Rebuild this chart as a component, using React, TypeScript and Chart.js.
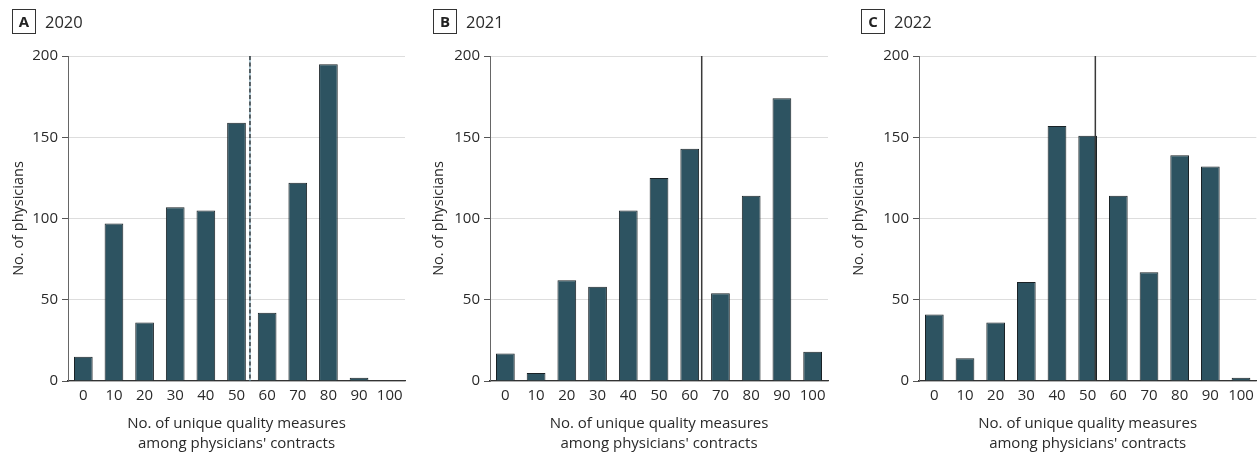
import React, { useEffect, useRef } from "react";
import { Chart, registerables } from "chart.js";

Chart.register(...registerables);

const categories = ["0", "10", "20", "30", "40", "50", "60", "70", "80", "90", "100"];
const values2020 = [15, 97, 36, 107, 105, 159, 42, 122, 195, 2, 0];
const values2021 = [17, 5, 62, 58, 105, 125, 143, 54, 114, 174, 18];
const values2022 = [41, 14, 36, 61, 157, 151, 114, 67, 139, 132, 2];
const panelLetters = ["A", "B", "C"];
const panelYears = ["2020", "2021", "2022"];
const referenceValues = [54.4, 63.9, 52.5];
const referenceDashed = [true, false, false];
const yTicks = [0, 50, 100, 150, 200];

const FONT = "'Open Sans', 'Noto Sans', sans-serif";
const BAR_FILL = "#2d5361";
const BAR_BORDER = "#1a2226";
const TEXT = "#2a2a2a";

const layouts = [
  { offset: 0, plotLeft: 68, plotRight: 405 },
  { offset: 420, plotLeft: 70, plotRight: 408 },
  { offset: 840, plotLeft: 79, plotRight: 417 },
];

const refLinePlugin = {
  id: "refLine",
  afterDatasetsDraw(chart: any, _args: any, opts: any) {
    const { ctx, chartArea, scales } = chart;
    const x = scales.x.getPixelForValue(opts.value / 10);
    ctx.save();
    if (opts.dashed) {
      ctx.strokeStyle = "#6a9bb0";
      ctx.lineWidth = 1;
      ctx.beginPath();
      ctx.moveTo(x, chartArea.top);
      ctx.lineTo(x, chartArea.bottom);
      ctx.stroke();
      ctx.strokeStyle = "#1a1a1a";
      ctx.lineWidth = 1.2;
      ctx.setLineDash([4, 2.5]);
    } else {
      ctx.strokeStyle = "#3a3a3a";
      ctx.lineWidth = 1.5;
    }
    ctx.beginPath();
    ctx.moveTo(x, chartArea.top);
    ctx.lineTo(x, chartArea.bottom);
    ctx.stroke();
    ctx.restore();
  },
};

function Panel({ idx, values }: { idx: number; values: number[] }) {
  const ref = useRef<HTMLCanvasElement | null>(null);
  const lay = layouts[idx];
  useEffect(() => {
    if (!ref.current) return;
    const chart = new Chart(ref.current, {
      type: "bar",
      data: {
        labels: categories,
        datasets: [
          {
            data: values,
            backgroundColor: BAR_FILL,
            borderColor: BAR_BORDER,
            borderWidth: 1,
            barPercentage: 0.61,
            categoryPercentage: 1,
          },
        ],
      },
      plugins: [refLinePlugin],
      options: {
        animation: false,
        responsive: false,
        maintainAspectRatio: false,
        devicePixelRatio: 1,
        layout: { padding: { top: 56, right: 420 - lay.plotRight, left: 0, bottom: 0 } },
        plugins: {
          legend: { display: false },
          tooltip: { enabled: false },
          refLine: { value: referenceValues[idx], dashed: referenceDashed[idx] },
        } as any,
        scales: {
          x: {
            type: "category",
            offset: true,
            grid: { display: false, drawTicks: false },
            border: { display: true, color: "#333", width: 1.2 },
            ticks: { color: TEXT, font: { family: FONT, size: 15 }, padding: 6, maxRotation: 0, autoSkip: false },
            title: {
              display: true,
              text: ["No. of unique quality measures", "among physicians' contracts"],
              color: TEXT,
              font: { family: FONT, size: 15, lineHeight: 1.33 },
              padding: { top: 0, bottom: -1 },
            },
            afterFit(scale: any) {
              scale.height = 72;
            },
          },
          y: {
            min: 0,
            max: 200,
            afterBuildTicks(scale: any) {
              scale.ticks = yTicks.map((v) => ({ value: v }));
            },
            grid: { color: "#dddddd", lineWidth: 1, tickColor: "#555", tickLength: 6, drawTicks: true },
            border: { display: true, color: "#666", width: 1 },
            ticks: { color: TEXT, font: { family: FONT, size: 15 }, padding: 4 },
            title: {
              display: true,
              text: "No. of physicians",
              color: TEXT,
              font: { family: FONT, size: 14.5, lineHeight: 1.2 },
              padding: { top: 10, bottom: 0 },
            },
            afterFit(scale: any) {
              scale.width = lay.plotLeft;
            },
          },
        },
      } as any,
    });
    return () => chart.destroy();
  }, []);
  const shift = idx === 2 ? 9 : idx === 1 ? 1 : 0;
  return (
    <div style={{ position: "absolute", left: lay.offset, top: 0, width: 420, height: 453 }}>
      <canvas ref={ref} width={420} height={453} style={{ display: "block", width: 420, height: 453 }} />
      <div
        style={{
          position: "absolute",
          left: 12 + shift,
          top: 9,
          width: 22,
          height: 23,
          border: "1px solid #333",
          fontFamily: FONT,
          fontWeight: 700,
          fontSize: 15,
          lineHeight: "23px",
          textAlign: "center",
          color: "#222",
        }}
      >
        {panelLetters[idx]}
      </div>
      <div
        style={{
          position: "absolute",
          left: 45 + shift,
          top: 9,
          height: 25,
          lineHeight: "25px",
          fontFamily: FONT,
          fontSize: 16.5,
          color: TEXT,
        }}
      >
        {panelYears[idx]}
      </div>
    </div>
  );
}

export default function App() {
  useEffect(() => {
    document.body.style.margin = "0";
  }, []);
  return (
    <div style={{ position: "relative", width: 1260, height: 453, background: "#fff", overflow: "hidden" }}>
      <Panel idx={0} values={values2020} />
      <Panel idx={1} values={values2021} />
      <Panel idx={2} values={values2022} />
    </div>
  );
}
